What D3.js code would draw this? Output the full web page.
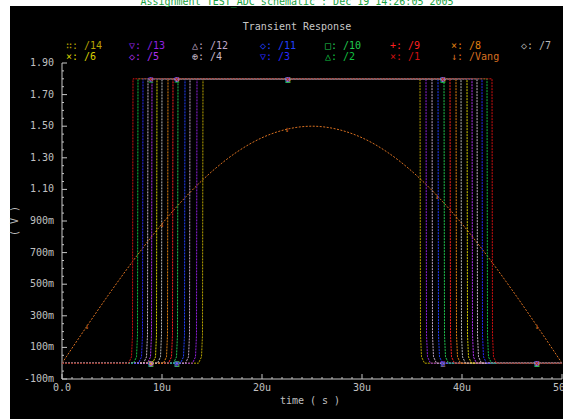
<!DOCTYPE html>
<html lang="en">
<head>
  <meta charset="utf-8">
  <title>Transient Response</title>
  <script src="https://cdn.jsdelivr.net/npm/d3@7"></script>
  <style>
    body { margin: 0; background: #fff; }
    text { font-family: "DejaVu Sans Mono", monospace; }
  </style>
</head>
<body>
<script>
  // comparator outputs /1../14 : rise and fall times (us)
  var names = ["/1","/2","/3","/4","/5","/6","/7","/8","/9","/10","/11","/12","/13","/14"];
  var riseT = [7.1, 7.6, 8.1, 8.6, 9.0, 9.5, 10.0, 10.6, 11.1, 11.6, 12.3, 12.8, 13.5, 14.1];
  var fallT = [43.0, 42.5, 42.0, 41.5, 41.0, 40.5, 39.9, 39.4, 38.8, 38.2, 37.6, 37.0, 36.4, 35.8];
  var highV = 1.8;
  var colors = ["#d01010","#10c040","#2828ff","#c8b8c8","#b030f0","#d8d000","#b8b8b8",
                "#e08010","#ff2020","#20c850","#2040ff","#c0a8c8","#9020e0","#b8a400"];
  var glyphs = ["×","△","▽","⊕","◇","×","◇","×","+","□","◇","△","▽","∷"];

  // input ramp /Vang
  var vangT = [0,2.5,5,7.5,10,12.5,15,17.5,20,22.5,25,27.5,30,32.5,35,37.5,40,42.5,45,47.5,50];
  var vangV = [0,0.235,0.464,0.681,0.882,1.061,1.214,1.337,1.427,1.481,1.5,
               1.481,1.427,1.337,1.214,1.061,0.882,0.681,0.464,0.235,0];
  var vangColor = "#d87020";

  var markT = [8.9, 11.5, 22.6, 38.1, 47.5];

  var xTicks = [0,10,20,30,40,50];
  var xTickLabels = ["0.0","10u","20u","30u","40u","50u"];
  var yTicks = [1.9,1.7,1.5,1.3,1.1,0.9,0.7,0.5,0.3,0.1,-0.1];
  var yTickLabels = ["1.90","1.70","1.50","1.30","1.10","900m","700m","500m","300m","100m","-100m"];

  var W = 563, H = 419;
  var svg = d3.select("body").append("svg").attr("width", W).attr("height", H);
  svg.append("rect").attr("x",10).attr("y",6).attr("width",W-10).attr("height",H-6).attr("fill","#000");

  var x = d3.scaleLinear().domain([0,50]).range([62,562]);
  var y = d3.scaleLinear().domain([-0.1,1.9]).range([379,63]);

  var axisColor = "#c8c8c8";
  // axes
  svg.append("line").attr("x1",x(0)).attr("x2",x(50)).attr("y1",y(-0.1)).attr("y2",y(-0.1))
     .attr("stroke",axisColor).attr("stroke-width",1);
  svg.append("line").attr("x1",x(0)).attr("x2",x(0)).attr("y1",y(-0.1)).attr("y2",y(1.9))
     .attr("stroke",axisColor).attr("stroke-width",1);

  var xMinor = d3.range(0, 51, 1);
  svg.selectAll(".xmin").data(xMinor).enter().append("line")
     .attr("x1",d => x(d)).attr("x2",d => x(d))
     .attr("y1",y(-0.1)).attr("y2",d => y(-0.1) - (d % 10 === 0 ? 5 : 2))
     .attr("stroke",axisColor);
  var yMinor = d3.range(0, 41, 1).map(i => -0.1 + i*0.05);
  svg.selectAll(".ymin").data(yMinor).enter().append("line")
     .attr("x1",x(0)).attr("x2",(d,i) => x(0) + (i % 4 === 0 ? 5 : 2))
     .attr("y1",d => y(d)).attr("y2",d => y(d))
     .attr("stroke",axisColor);

  svg.selectAll(".xlab").data(xTicks).enter().append("text")
     .attr("x",d => x(d)).attr("y",391).attr("text-anchor","middle")
     .attr("fill","#c0c0c0").style("font-size","10px")
     .text((d,i) => xTickLabels[i]);
  svg.selectAll(".ylab").data(yTicks).enter().append("text")
     .attr("x",54).attr("y",d => y(d) + 3).attr("text-anchor","end")
     .attr("fill","#c0c0c0").style("font-size","10px")
     .text((d,i) => yTickLabels[i]);

  svg.append("text").attr("x",310).attr("y",404).attr("text-anchor","middle")
     .attr("fill","#c0c0c0").style("font-size","10px").text("time ( s )");
  svg.append("text").attr("transform","translate(18,221) rotate(-90)").attr("text-anchor","middle")
     .attr("fill","#c0c0c0").style("font-size","10px").text("( V )");

  // titles (the header is clipped by the window top, as in the original)
  svg.append("text").attr("x",297).attr("y",5).attr("text-anchor","middle")
     .attr("fill","#18a040").style("font-size","10px")
     .text("Assignment TEST_ADC schematic : Dec 19 14:26:05 2005");
  svg.append("text").attr("x",297).attr("y",30).attr("text-anchor","middle")
     .attr("fill","#c8c8c8").style("font-size","10px").text("Transient Response");

  // legend: row 1 = /14../7, row 2 = /6../1, /Vang
  var legCols = [66,129,192,260,325,390,451,521];
  var legend = [];
  for (var i = 0; i < 8; i++) legend.push({k: 13 - i, col: i, row: 0});
  for (var i = 0; i < 6; i++) legend.push({k: 5 - i, col: i, row: 1});
  svg.selectAll(".leg").data(legend).enter().append("text")
     .attr("x",d => legCols[d.col]).attr("y",d => d.row === 0 ? 49 : 60)
     .attr("fill",d => colors[d.k]).style("font-size","10px")
     .text(d => glyphs[d.k] + ": " + names[d.k]);
  svg.append("text").attr("x",legCols[6]).attr("y",60).attr("fill",vangColor)
     .style("font-size","10px").text("↓: /Vang");

  var line = d3.line().x(d => x(d[0])).y(d => y(d[1]));

  // Vang under the digital outputs
  var vangPts = vangT.map((t,i) => [t, vangV[i]]);
  svg.append("path").datum(vangPts)
     .attr("d", d3.line().x(d => x(d[0])).y(d => y(d[1])).curve(d3.curveMonotoneX))
     .attr("fill","none").attr("stroke",vangColor).attr("stroke-width",1)
     .attr("stroke-dasharray","2,1.5");

  function tracePts(k) {
    var r = riseT[k], f = fallT[k];
    return [[0,0],[r-0.45,0],[r-0.15,0.04],[r-0.05,0.18],[r,highV],
            [f,highV],[f+0.05,0.18],[f+0.15,0.04],[f+0.45,0],[50,0]];
  }
  // draw /14 first so /1 ends on top
  var order = d3.range(13, -1, -1);
  svg.selectAll(".trace").data(order).enter().append("path")
     .attr("d", k => line(tracePts(k)))
     .attr("fill","none").attr("stroke",k => colors[k]).attr("stroke-width",1)
     .attr("stroke-dasharray","2,1");

  // markers
  function valueAt(k, t) { return (t > riseT[k] && t < fallT[k]) ? highV : 0; }
  var marks = [];
  order.forEach(k => markT.forEach(t => marks.push({k: k, t: t, v: valueAt(k, t)})));
  svg.selectAll(".mk").data(marks).enter().append("text")
     .attr("x",d => x(d.t)).attr("y",d => y(d.v) + 3).attr("text-anchor","middle")
     .attr("fill",d => colors[d.k]).style("font-size","8px")
     .text(d => glyphs[d.k]);
  var vangMarks = [2.5, 10, 22.5, 37.5, 47.5];
  svg.selectAll(".vm").data(vangMarks).enter().append("text")
     .attr("x",d => x(d)).attr("y",d => y(vangV[vangT.indexOf(d)]) + 3)
     .attr("text-anchor","middle").attr("fill",vangColor).style("font-size","8px").text("↓");
</script>
</body>
</html>
